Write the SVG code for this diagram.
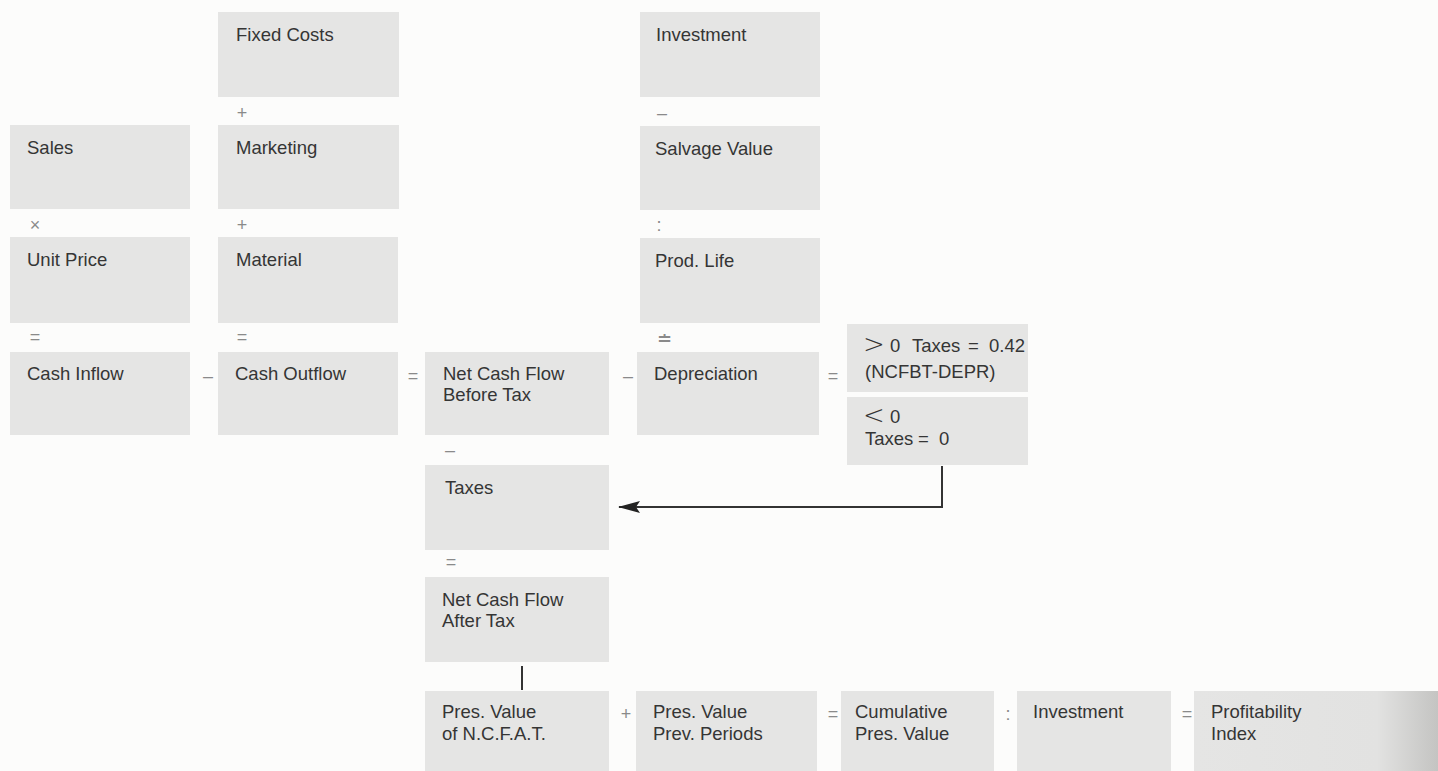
<svg xmlns="http://www.w3.org/2000/svg" width="1438" height="771" viewBox="0 0 1438 771">
<style>
.bg{fill:#fcfcfb}
.box{fill:#e5e5e4}
.t{font-family:"Liberation Sans",Arial,sans-serif;font-size:18.5px;fill:#353535}
.big{font-size:26px;font-family:"DejaVu Sans","Liberation Sans",sans-serif;font-weight:300}
.op{font-family:"Liberation Sans",Arial,sans-serif;font-size:18px;fill:#8a8a8a;text-anchor:middle}
.ln{stroke:#333;stroke-width:2;fill:none}
</style>
<defs>
<marker id="ahL" markerWidth="22" markerHeight="12" refX="21" refY="6" orient="auto" markerUnits="userSpaceOnUse" viewBox="0 0 22 12">
<path d="M0,0 L22,6 L0,12 L4,6 Z" fill="#222"/>
</marker>
<linearGradient id="edge" x1="0" y1="0" x2="1" y2="0">
<stop offset="0" stop-color="#e5e5e4"/>
<stop offset="0.75" stop-color="#e2e2e1"/>
<stop offset="1" stop-color="#c4c4c2"/>
</linearGradient>
</defs>
<rect class="bg" x="0" y="0" width="1438" height="771"/>

<g id="fixed-costs"><rect class="box" x="218" y="12" width="181" height="85"/><text class="t" x="236" y="41">Fixed Costs</text></g>
<g id="investment-top"><rect class="box" x="640" y="12" width="180" height="85"/><text class="t" x="656" y="41">Investment</text></g>
<g id="sales"><rect class="box" x="10" y="125" width="180" height="84"/><text class="t" x="27" y="154">Sales</text></g>
<g id="marketing"><rect class="box" x="218" y="125" width="181" height="84"/><text class="t" x="236" y="154">Marketing</text></g>
<g id="salvage-value"><rect class="box" x="640" y="126" width="180" height="84"/><text class="t" x="655" y="155">Salvage Value</text></g>
<g id="unit-price"><rect class="box" x="10" y="237" width="180" height="86"/><text class="t" x="27" y="266">Unit Price</text></g>
<g id="material"><rect class="box" x="218" y="237" width="180" height="86"/><text class="t" x="236" y="266">Material</text></g>
<g id="prod-life"><rect class="box" x="640" y="238" width="180" height="85"/><text class="t" x="655" y="267">Prod. Life</text></g>
<g id="cash-inflow"><rect class="box" x="10" y="352" width="180" height="83"/><text class="t" x="27" y="380">Cash Inflow</text></g>
<g id="cash-outflow"><rect class="box" x="218" y="352" width="180" height="83"/><text class="t" x="235" y="380">Cash Outflow</text></g>
<g id="ncfbt"><rect class="box" x="425" y="352" width="184" height="83"/><text class="t" x="443" y="380">Net Cash Flow</text><text class="t" x="443" y="401">Before Tax</text></g>
<g id="depreciation"><rect class="box" x="637" y="352" width="182" height="83"/><text class="t" x="654" y="380">Depreciation</text></g>
<g id="tax-positive"><rect class="box" x="847" y="324" width="181" height="68"/><text class="t" y="352"><tspan class="big" x="863" y="353">&gt;</tspan><tspan x="890" y="352">0</tspan><tspan x="912">Taxes</tspan><tspan x="968">=</tspan><tspan x="989">0.42</tspan></text><text class="t" x="865" y="378">(NCFBT-DEPR)</text></g>
<g id="tax-negative"><rect class="box" x="847" y="397" width="181" height="68"/><text class="t" y="423"><tspan class="big" x="863" y="424">&lt;</tspan><tspan x="890" y="423">0</tspan></text><text class="t" y="445"><tspan x="865">Taxes</tspan><tspan x="918">=</tspan><tspan x="939">0</tspan></text></g>
<g id="taxes"><rect class="box" x="425" y="465" width="184" height="85"/><text class="t" x="445" y="494">Taxes</text></g>
<g id="ncfat"><rect class="box" x="425" y="577" width="184" height="85"/><text class="t" x="442" y="606">Net Cash Flow</text><text class="t" x="442" y="627">After Tax</text></g>
<g id="pv-ncfat"><rect class="box" x="425" y="691" width="184" height="80"/><text class="t" x="442" y="718">Pres. Value</text><text class="t" x="442" y="740">of N.C.F.A.T.</text></g>
<g id="pv-prev"><rect class="box" x="636" y="691" width="181" height="80"/><text class="t" x="653" y="718">Pres. Value</text><text class="t" x="653" y="740">Prev. Periods</text></g>
<g id="cumulative"><rect class="box" x="841" y="691" width="153" height="80"/><text class="t" x="855" y="718">Cumulative</text><text class="t" x="855" y="740">Pres. Value</text></g>
<g id="investment-bottom"><rect class="box" x="1017" y="691" width="154" height="80"/><text class="t" x="1033" y="718">Investment</text></g>
<g id="profitability-index"><rect x="1194" y="691" width="244" height="80" fill="url(#edge)"/><text class="t" x="1211" y="718">Profitability</text><text class="t" x="1211" y="740">Index</text></g>

<g id="operators">
<text class="op" x="242" y="119">+</text>
<text class="op" x="662" y="119">–</text>
<text class="op" x="35" y="231">×</text>
<text class="op" x="242" y="231">+</text>
<text class="op" x="659" y="231">:</text>
<text class="op" x="35" y="343">=</text>
<text class="op" x="242" y="343">=</text>
<text class="op" x="664" y="345">≐</text>
<text class="op" x="208" y="382">–</text>
<text class="op" x="413" y="382">=</text>
<text class="op" x="628" y="382">–</text>
<text class="op" x="833" y="382">=</text>
<text class="op" x="450" y="456">–</text>
<text class="op" x="451" y="568">=</text>
<text class="op" x="626" y="720">+</text>
<text class="op" x="833" y="720">=</text>
<text class="op" x="1008" y="720">:</text>
<text class="op" x="1187" y="720">=</text>
</g>

<g id="connectors">
<path class="ln" d="M942,466 V507 H619" marker-end="url(#ahL)"/>
<path class="ln" d="M522,666 V690"/>
</g>
</svg>
